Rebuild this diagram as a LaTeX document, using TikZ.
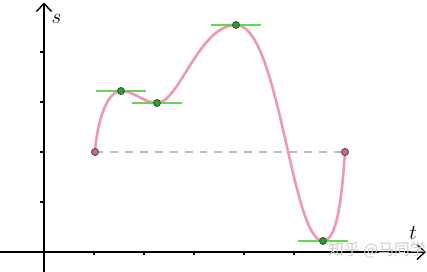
\documentclass[tikz,border=0pt]{standalone}
\usepackage{xcolor}
\usepackage{fontspec}
\usepackage{tikz}
\usetikzlibrary{arrows.meta, positioning, calc}
\newfontfamily\cjkfont{Noto Sans CJK SC}
\definecolor{crvpink}{HTML}{EE98B8}
\definecolor{dotpink}{HTML}{D0648C}
\definecolor{tangreen}{HTML}{66D455}
\definecolor{dotgreen}{HTML}{22A522}
\definecolor{guidegray}{HTML}{BBBBBB}
\definecolor{wmgray}{HTML}{CCCCCC}
\tikzset{
  axis/.style={line width=0.8pt, -{Straight Barb[length=1.6mm, width=3mm]}},
  tick/.style={line width=0.6pt},
  curve/.style={crvpink, line width=1.5pt},
  tangent/.style={tangreen, line width=0.8pt},
  guide/.style={guidegray, line width=0.8pt, dash pattern=on 4.5pt off 4pt},
  extremum/.style={circle, draw=black!70, fill=dotgreen, line width=0.5pt,
    inner sep=0pt, minimum size=1.4mm},
  endpt/.style={circle, draw=black!70, fill=dotpink, line width=0.5pt,
    inner sep=0pt, minimum size=1.4mm},
}

\begin{document}
\begin{tikzpicture}
  \useasboundingbox (-0.88,-0.4) rectangle (7.66,5.04);

  % axes and ticks
  \coordinate (xend) at (7.64,0);
  \coordinate (yend) at (0,4.99);
  \draw[axis] (-0.9,0) -- (xend);
  \draw[axis] (0,-0.42) -- (yend);
  \foreach \i in {1,...,5}
    \draw[tick] (\i,0) -- (\i,-0.07);
  \foreach \j in {1,...,4}
    \draw[tick] (0,\j) -- (-0.07,\j);
  \node[font=\large] (slab) at (0.25,4.66) {$s$};
  \node[font=\large, inner sep=0pt] (tlab) at (7.38,0.37) {$t$};

  % points on the curve
  \coordinate (a0) at (1.02,2.00);
  \coordinate (a1) at (1.54,3.22);
  \coordinate (a2) at (2.26,2.98);
  \coordinate (a3) at (3.84,4.54);
  \coordinate (a4) at (5.58,0.22);
  \coordinate (a5) at (6.02,2.00);

  \draw[guide] (a0) -- (a5);
  \draw[curve] (a0) .. controls (1.08,2.75) and (1.3,3.22) .. (a1)
    .. controls (1.8,3.22) and (2.0,2.98) .. (a2)
    .. controls (2.7,2.98) and (3.1,4.54) .. (a3)
    .. controls (4.7,4.54) and (4.95,0.22) .. (a4)
    .. controls (5.85,0.22) and (5.95,1.0) .. (a5);

  % tangent lines
  \foreach \m in {a1,a2,a3,a4}
    \draw[tangent] ([xshift=-0.5cm]\m) -- ([xshift=0.5cm]\m);

  \node[endpt]    (p0) at (a0) {};
  \node[extremum] (m1) at (a1) {};
  \node[extremum] (m2) at (a2) {};
  \node[extremum] (m3) at (a3) {};
  \node[extremum] (m4) at (a4) {};
  \node[endpt]    (p1) at (a5) {};

  \node[wmgray, font=\cjkfont\small, inner sep=0pt] (wm) at (6.66,0.03) {知乎 @马同学};
\end{tikzpicture}
\end{document}
